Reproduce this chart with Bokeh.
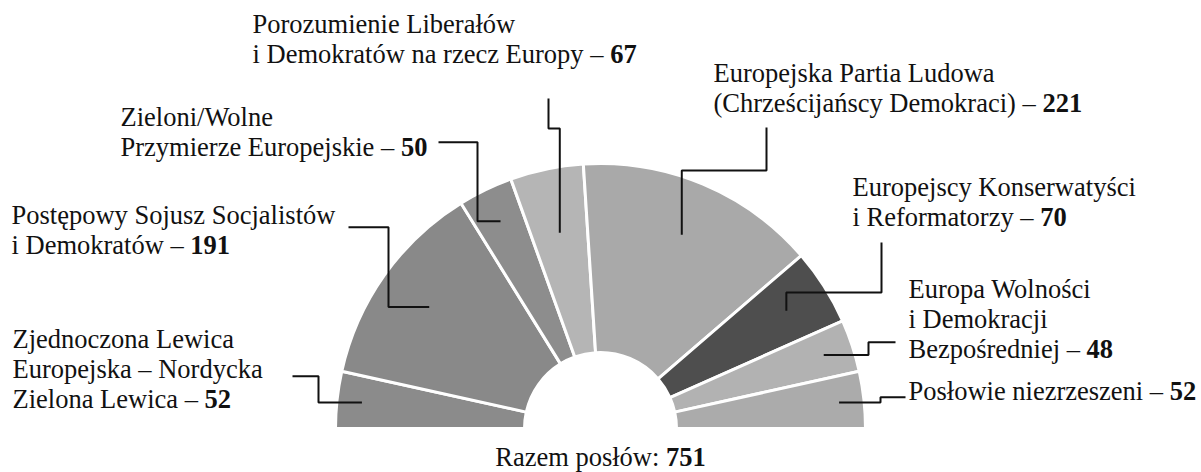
import numpy as np
from bokeh.plotting import figure
from bokeh.models import Range1d, ColumnDataSource
from bokeh.core.properties import value
from bokeh.embed import file_html
from bokeh.resources import INLINE

# ---------------- data ----------------
label_lines = [
    ["Zjednoczona Lewica", "Europejska – Nordycka", "Zielona Lewica"],
    ["Postępowy Sojusz Socjalistów", "i Demokratów"],
    ["Zieloni/Wolne", "Przymierze Europejskie"],
    ["Porozumienie Liberałów", "i Demokratów na rzecz Europy"],
    ["Europejska Partia Ludowa", "(Chrześcijańscy Demokraci)"],
    ["Europejscy Konserwatyści", "i Reformatorzy"],
    ["Europa Wolności", "i Demokracji", "Bezpośredniej"],
    ["Posłowie niezrzeszeni"],
]
seats = [52, 191, 50, 67, 221, 70, 48, 52]
colors = ["#8b8b8b", "#898989", "#8d8d8d", "#b5b5b5", "#a9a9a9", "#4e4e4e", "#b2b2b2", "#ababab"]
total_label = "Razem posłów:"

# ---------------- layout (reference pixel coordinates) ----------------
W_FIG, H_FIG = 1201, 472
CX, CY = 600, 428          # centre of the half ring
R_OUT, R_IN = 265, 76
FS = 26.5                   # font size px
LH = 30                     # line spacing px
TDX, TDY = -2, -10          # renderer offset correction for text

# left x, first baseline y of each label block
label_pos = [(14, 348), (13, 224.5), (122, 126.7), (254, 33.3),
             (715, 82), (854, 196.7), (910, 298), (910, 400)]
# leader: (kind, start_x, start_y, elbow, anchor_radius)
#  kind "h": horizontal to elbow x, vertical to anchor y, horizontal to anchor x
#  kind "v": vertical to elbow y, horizontal to anchor x, vertical to anchor y
leaders = [("h", 292, 375.7, 318, 240), ("h", 348, 226.7, 388, 210),
           ("h", 438, 141.7, 477, 230), ("v", 548, 98, 128, 200),
           ("v", 766, 127, 170, 210), ("v", 881, 242, 292, 220),
           ("h", 895, 341.7, 868, 235), ("h", 905, 396.7, 880, 240)]

# Times / Liberation Serif advance widths (em)
WID = {" ": .25, "–": .5, "(": .333, ")": .333, "/": .278, ":": .278,
       "A": .722, "B": .667, "C": .667, "D": .722, "E": .611, "K": .722, "L": .611,
       "N": .722, "P": .556, "R": .667, "S": .556, "W": .944, "Z": .611,
       "a": .444, "b": .5, "c": .444, "d": .5, "e": .444, "f": .333, "g": .5, "h": .5,
       "i": .278, "j": .278, "k": .5, "l": .278, "m": .778, "n": .5, "o": .5, "p": .5,
       "r": .333, "s": .389, "t": .278, "u": .5, "w": .722, "y": .5, "z": .444,
       "ą": .444, "ć": .444, "ę": .444, "ł": .278, "ń": .5, "ó": .5, "ś": .389,
       "ź": .444, "ż": .444}


def tw(s):
    return sum(WID.get(c, .5) for c in s) * FS


p = figure(width=W_FIG, height=H_FIG, output_backend="svg", toolbar_location=None,
           x_range=Range1d(0, W_FIG), y_range=Range1d(-H_FIG, 0),
           min_border=0, outline_line_color=None)
p.axis.visible = False
p.grid.visible = False
p.background_fill_color = "white"
p.border_fill_color = "white"

# ---------------- wedges ----------------
total = sum(seats)
cum = np.concatenate([[0], np.cumsum(seats)])
a_hi = np.pi - cum[:-1] / total * np.pi
a_lo = np.pi - cum[1:] / total * np.pi
src = ColumnDataSource(dict(x=[CX] * len(seats), y=[-CY] * len(seats),
                            start=a_lo, end=a_hi, color=colors))
p.annular_wedge(x="x", y="y", inner_radius=R_IN, outer_radius=R_OUT,
                start_angle="start", end_angle="end", fill_color="color",
                line_color="white", line_width=3, source=src)

# ---------------- leaders ----------------
xs, ys = [], []
mids = (a_hi + a_lo) / 2
for (kind, sx, sy, el, r), m in zip(leaders, mids):
    ax = CX + r * np.cos(m)
    ay = CY - r * np.sin(m)
    if kind == "h":
        px = [sx, el, el, ax]
        py = [sy, sy, ay, ay]
    else:
        px = [sx, sx, ax, ax]
        py = [sy, el, el, ay]
    xs.append(px)
    ys.append([-v for v in py])
p.multi_line(xs=xs, ys=ys, line_color="#111111", line_width=2)

# ---------------- labels ----------------
nx, ny, nt = [], [], []
bx, by, bt = [], [], []
for lines, (lx, ly), n in zip(label_lines, label_pos, seats):
    lx = lx + TDX
    for i, ln in enumerate(lines):
        y = ly + i * LH + TDY
        if i == len(lines) - 1:
            s = ln + " – "
            nx.append(lx); ny.append(-y); nt.append(s)
            bx.append(lx + tw(s)); by.append(-y); bt.append(str(n))
        else:
            nx.append(lx); ny.append(-y); nt.append(ln)

# total
s = total_label + " "
tot_w = tw(s) + len(str(total)) * .5 * FS
tx = CX + 2 - tot_w / 2 + TDX
ty = 466.5 + TDY
nx.append(tx); ny.append(-ty); nt.append(s)
bx.append(tx + tw(s)); by.append(-ty); bt.append(str(total))

common = dict(text_font=value("Liberation Serif"), text_font_size=value(f"{FS}px"),
              text_color="#111111", text_align="left", text_baseline="alphabetic")
p.text(x=nx, y=ny, text=nt, **common)
p.text(x=bx, y=by, text=bt, text_font_style="bold", **common)

open("out.html", "w").write(file_html(p, INLINE))
